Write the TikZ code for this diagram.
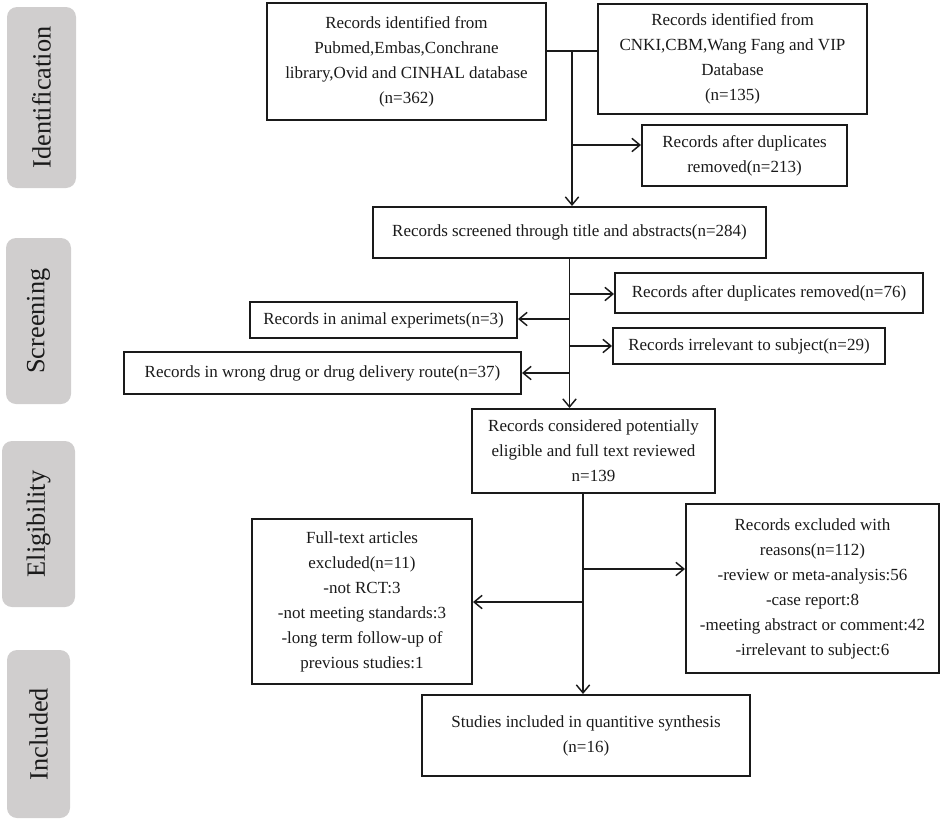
\documentclass[tikz,border=0pt]{standalone}
\usepackage{fontspec}
\setmainfont{Liberation Serif}
\usetikzlibrary{arrows.meta}
\definecolor{lab}{HTML}{D0CECE}
\definecolor{ink}{HTML}{1A1A1A}
\begin{document}
\begin{tikzpicture}[x=0.75pt,y=-0.75pt,
  bx/.style={draw=ink, line width=1.5pt, align=center, inner sep=0pt, text=ink,
    font=\fontsize{12.75}{18.75}\selectfont},
  lbl/.style={fill=lab, rounded corners=7.5pt, rotate=90, inner sep=0pt, text=ink,
    font=\fontsize{19.75}{22}\selectfont},
  conn/.style={draw=ink, line width=1.1pt},
  arr/.style={conn, -{Straight Barb[length=6pt,width=10pt,line width=1.1pt]}}]
\useasboundingbox (0,0) rectangle (941,821);

% stage labels
\node[lbl, minimum width=0.75*181pt, minimum height=0.75*69pt] (Lid) at (41.5,97.5) {Identification};
\node[lbl, minimum width=0.75*166pt, minimum height=0.75*65pt] (Lsc) at (38.5,321) {Screening};
\node[lbl, minimum width=0.75*166pt, minimum height=0.75*73pt] (Lel) at (38.5,524) {Eligibility};
\node[lbl, minimum width=0.75*168pt, minimum height=0.75*63pt] (Lin) at (38.5,734) {Included};

% boxes
\node[bx, minimum width=0.75*279pt, minimum height=0.75*117pt] (A) at (406.5,61.5)
  {Records identified from\\Pubmed,Embas,Conchrane\\library,Ovid and CINHAL database\\(n=362)};
\node[bx, minimum width=0.75*269pt, minimum height=0.75*110pt] (B) at (732.5,59)
  {Records identified from\\CNKI,CBM,Wang Fang and VIP\\Database\\(n=135)};
\node[bx, minimum width=0.75*205pt, minimum height=0.75*61pt] (D213) at (744.5,155.5)
  {Records after duplicates\\removed(n=213)};
\node[bx, minimum width=0.75*393pt, minimum height=0.75*51pt] (S) at (569.5,232.5)
  {Records screened through title and abstracts(n=284)};
\node[bx, minimum width=0.75*308pt, minimum height=0.75*40pt] (D76) at (769,293)
  {Records after duplicates removed(n=76)};
\node[bx, minimum width=0.75*272pt, minimum height=0.75*36pt] (I29) at (749,346)
  {Records irrelevant to subject(n=29)};
\node[bx, minimum width=0.75*267pt, minimum height=0.75*36pt] (A3) at (383.5,320)
  {Records in animal experimets(n=3)};
\node[bx, minimum width=0.75*397pt, minimum height=0.75*42pt] (W37) at (322.5,373)
  {Records in wrong drug or drug delivery route(n=37)};
\node[bx, minimum width=0.75*243pt, minimum height=0.75*84pt] (C) at (593.5,451)
  {Records considered potentially\\eligible and full text reviewed\\n=139};
\node[bx, minimum width=0.75*220pt, minimum height=0.75*165pt] (F11) at (362,601.5)
  {Full-text articles\\excluded(n=11)\\-not RCT:3\\-not meeting standards:3\\-long term follow-up of\\previous studies:1};
\node[bx, minimum width=0.75*253pt, minimum height=0.75*169pt] (E112) at (812.5,588.5)
  {Records excluded with\\reasons(n=112)\\-review or meta-analysis:56\\-case report:8\\-meeting abstract or comment:42\\-irrelevant to subject:6};
\node[bx, minimum width=0.75*328pt, minimum height=0.75*81pt] (St) at (586,735.5)
  {Studies included in quantitive synthesis\\(n=16)};

% identification connectors
\coordinate (j1) at (572,51);
\coordinate (j2) at (572,145);
\draw[conn] (j1 -| A.east) -- (j1 -| B.west);
\draw[arr] (j1) -- (j1 |- S.north);
\draw[arr] (j2) -- (j2 -| D213.west);

% screening connectors
\coordinate (k1) at (569.5,294);
\coordinate (k2) at (569.5,346);
\coordinate (k3) at (569.5,319);
\coordinate (k4) at (569.5,373);
\draw[arr] (S.south) -- (S.south |- C.north);
\draw[arr] (k1) -- (k1 -| D76.west);
\draw[arr] (k2) -- (k2 -| I29.west);
\draw[arr] (k3) -- (k3 -| A3.east);
\draw[arr] (k4) -- (k4 -| W37.east);

% eligibility connectors
\coordinate (m0) at (583,0);
\coordinate (m1) at (583,569);
\coordinate (m2) at (583,602);
\draw[arr] (C.south -| m0) -- (St.north -| m0);
\draw[arr] (m1) -- (m1 -| E112.west);
\draw[arr] (m2) -- (m2 -| F11.east);
\end{tikzpicture}
\end{document}
